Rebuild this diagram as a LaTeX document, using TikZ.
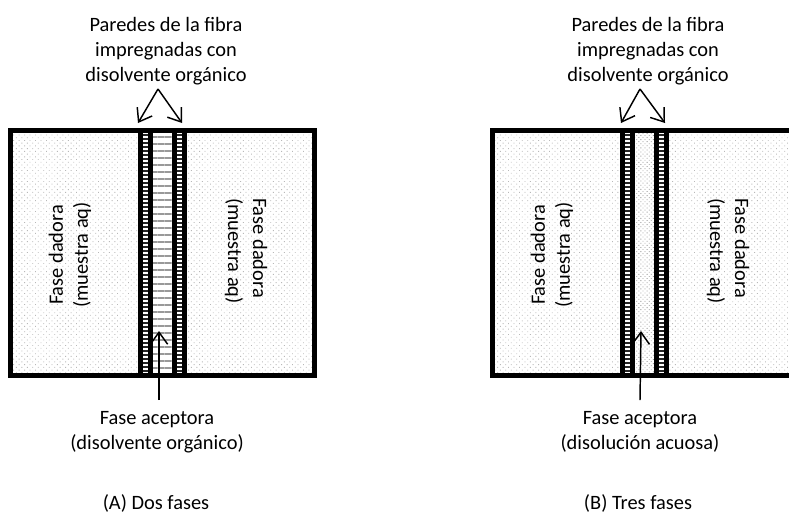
\documentclass[tikz,border=0pt]{standalone}
\usepackage{fontspec}
\setmainfont{Carlito}
\usetikzlibrary{patterns.meta,arrows.meta}
\begin{document}
\begin{tikzpicture}[x=0.75pt,y=-0.75pt,
  donor/.style={pattern={Dots[distance=2.9pt,radius=0.45pt,angle=45]},pattern color=black!28},
  wallfill/.style={pattern={Lines[angle=0,distance=3pt,line width=1.2pt]},pattern color=black!85},
  lumenorg/.style={pattern={Lines[angle=0,distance=5.25pt,line width=1.6pt]},pattern color=black!40},
  lumenaq/.style={pattern={Dots[distance=2.2pt,radius=0.45pt,angle=45]},pattern color=black!40},
  frame/.style={line width=3.75pt},
  lbl/.style={font=\fontsize{15.3}{18.8}\selectfont, align=center, inner sep=0pt},
  arr/.style={line width=1.1pt,-{Straight Barb[length=9pt,width=13pt,line width=1.1pt]}}
]
\useasboundingbox (0,0) rectangle (789,515);
\clip (0,0) rectangle (789,515);
% ---------- (A) ----------
\fill[donor] (10.5,130) rectangle (140.5,375.5);
\fill[donor] (184.5,130) rectangle (314.5,375.5);
\fill[wallfill] (140.5,130) rectangle (150.5,375.5);
\fill[wallfill] (174.5,130) rectangle (184.5,375.5);
\fill[white] (150.5,130) rectangle (174.5,375.5);
\fill[lumenorg] (150.5,130) rectangle (174.5,375.5);
\draw[frame] (10.5,130) rectangle (314.5,375.5);
\foreach \xx in {140.5,150.5,174.5,184.5} \draw[frame] (\xx,130) -- (\xx,375.5);
\node[lbl] (topA) at (166,51) {Paredes de la fibra\\impregnadas con\\disolvente orgánico};
\node[lbl,rotate=90] (donAL) at (70,255) {Fase dadora\\(muestra aq)};
\node[lbl,rotate=-90,align=left] (donAR) at (246,251) {Fase dadora\\(muestra aq)};
\node[lbl] (botA) at (157,432) {Fase aceptora\\(disolvente orgánico)};
\node[lbl] (capA) at (156,503) {(A) Dos fases};
\coordinate (fanA) at (158,89);
\coordinate (wallA1) at (138,123);
\coordinate (wallA2) at (182,123);
\coordinate (stemA) at (159,400);
\coordinate (lumA) at (159,331);
\draw[arr] (fanA) -- (wallA1);
\draw[arr] (fanA) -- (wallA2);
\draw[arr] (stemA) -- (lumA);
% ---------- (B) ----------
\fill[donor] (492.5,130) rectangle (622.5,375.5);
\fill[donor] (666.5,130) rectangle (796.5,375.5);
\fill[wallfill] (622.5,130) rectangle (632.5,375.5);
\fill[wallfill] (656.5,130) rectangle (666.5,375.5);
\fill[lumenaq] (632.5,130) rectangle (656.5,375.5);
\draw[frame] (492.5,130) rectangle (796.5,375.5);
\foreach \xx in {622.5,632.5,656.5,666.5} \draw[frame] (\xx,130) -- (\xx,375.5);
\node[lbl] (topB) at (648,51) {Paredes de la fibra\\impregnadas con\\disolvente orgánico};
\node[lbl,rotate=90] (donBL) at (552,255) {Fase dadora\\(muestra aq)};
\node[lbl,rotate=-90,align=left] (donBR) at (728,251) {Fase dadora\\(muestra aq)};
\node[lbl] (botB) at (640,432) {Fase aceptora\\(disolución acuosa)};
\node[lbl] (capB) at (638,503) {(B) Tres fases};
\coordinate (fanB) at (640,89);
\coordinate (wallB1) at (621,123);
\coordinate (wallB2) at (665,123);
\coordinate (stemB) at (640,400);
\coordinate (lumB) at (641,331);
\draw[arr] (fanB) -- (wallB1);
\draw[arr] (fanB) -- (wallB2);
\draw[arr] (stemB) -- (lumB);
\end{tikzpicture}
\end{document}
